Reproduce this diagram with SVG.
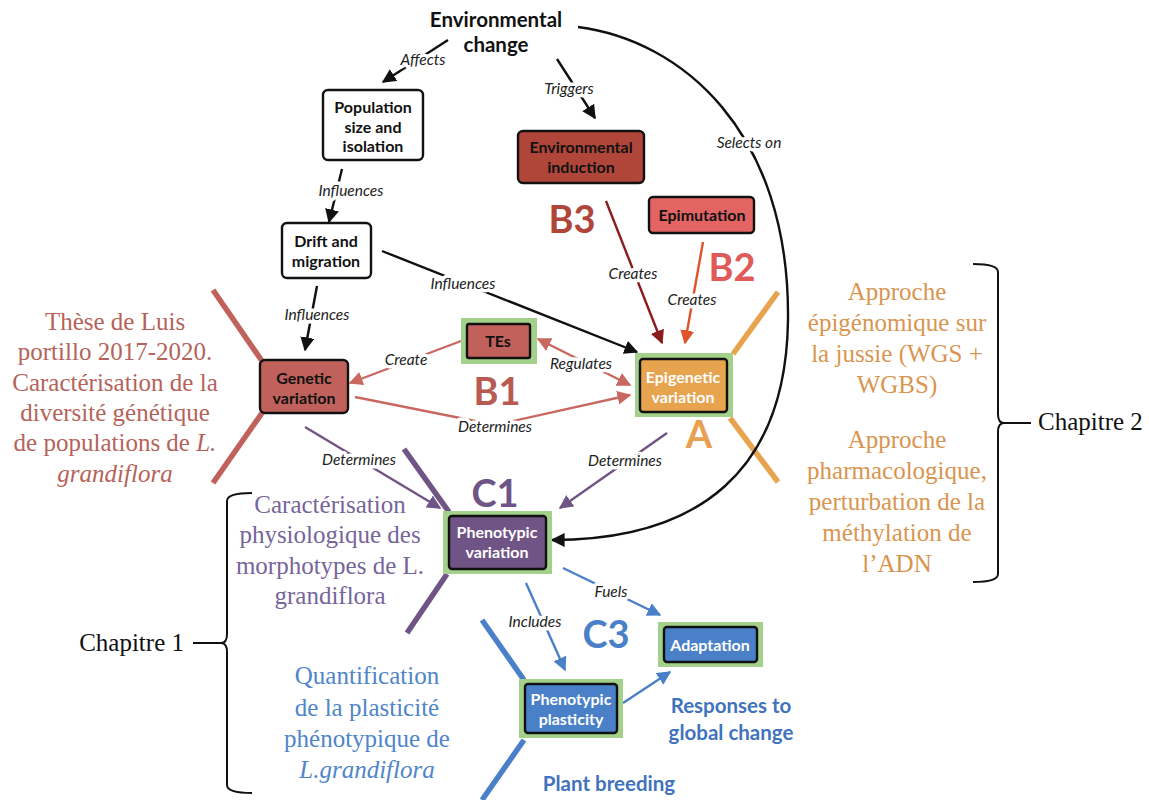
<svg xmlns="http://www.w3.org/2000/svg" width="1149" height="800" viewBox="0 0 1149 800">
<style>
.nt{font-family:Lato,"Open Sans",sans-serif;font-weight:bold;font-size:16px;text-anchor:middle;fill:#111}
.nw{fill:#fff}
.ttl{font-size:20.5px}
.blt{font-size:20.5px;fill:#3f73bd}
.lbl{font-family:Lato,"Open Sans",sans-serif;font-style:italic;font-size:15.5px;text-anchor:middle;fill:#222;paint-order:stroke;stroke:#fff;stroke-width:7px;stroke-linejoin:round}
.box{stroke:#111;stroke-width:2.4}
.frame{fill:#a3d08a}
.sec{font-family:Lato,"Open Sans",sans-serif;font-weight:bold;font-size:38px;text-anchor:middle}
.ser{font-family:"Liberation Serif","Times New Roman",serif;font-size:25px;text-anchor:middle}
.chap{text-anchor:start;fill:#111}
.chapr{text-anchor:end;fill:#111}
.c{fill:none;stroke-width:2.4}
.bar{stroke-width:5.5;stroke-linecap:butt}
.brace{fill:none;stroke:#111;stroke-width:2}
</style>
<defs>
<marker id="mk" viewBox="0 0 10 10" refX="9" refY="5" markerWidth="14" markerHeight="14" markerUnits="userSpaceOnUse" orient="auto-start-reverse"><path d="M0,0 L10,5 L0,10 z" fill="#111"/></marker>
<marker id="mr" viewBox="0 0 10 10" refX="9" refY="5" markerWidth="14" markerHeight="14" markerUnits="userSpaceOnUse" orient="auto-start-reverse"><path d="M0,0 L10,5 L0,10 z" fill="#c86860"/></marker>
<marker id="md" viewBox="0 0 10 10" refX="9" refY="5" markerWidth="14" markerHeight="14" markerUnits="userSpaceOnUse" orient="auto-start-reverse"><path d="M0,0 L10,5 L0,10 z" fill="#8b1c1c"/></marker>
<marker id="mo" viewBox="0 0 10 10" refX="9" refY="5" markerWidth="14" markerHeight="14" markerUnits="userSpaceOnUse" orient="auto-start-reverse"><path d="M0,0 L10,5 L0,10 z" fill="#e0522a"/></marker>
<marker id="mp" viewBox="0 0 10 10" refX="9" refY="5" markerWidth="14" markerHeight="14" markerUnits="userSpaceOnUse" orient="auto-start-reverse"><path d="M0,0 L10,5 L0,10 z" fill="#6f5485"/></marker>
<marker id="mb" viewBox="0 0 10 10" refX="9" refY="5" markerWidth="14" markerHeight="14" markerUnits="userSpaceOnUse" orient="auto-start-reverse"><path d="M0,0 L10,5 L0,10 z" fill="#4a80c8"/></marker>
</defs>
<rect width="1149" height="800" fill="#fff"/>

<g id="bars">
<line class="bar" x1="213" y1="290" x2="262" y2="361" stroke="#c0625b"/>
<line class="bar" x1="262" y1="413" x2="213" y2="483" stroke="#c0625b"/>
<line class="bar" x1="733" y1="354" x2="778" y2="292" stroke="#e8a34f"/>
<line class="bar" x1="730" y1="418" x2="778" y2="482" stroke="#e8a34f"/>
<line class="bar" x1="404" y1="449" x2="449" y2="512" stroke="#6f5485"/>
<line class="bar" x1="447" y1="574" x2="407" y2="633" stroke="#6f5485"/>
<line class="bar" x1="482" y1="620" x2="524" y2="680" stroke="#4a80c8"/>
<line class="bar" x1="524" y1="740" x2="482" y2="800" stroke="#4a80c8"/>
</g>

<g id="connectors">
<line class="c" stroke="#111" x1="448" y1="40" x2="383" y2="82" marker-end="url(#mk)"/>
<line class="c" stroke="#111" x1="557" y1="59" x2="595" y2="118" marker-end="url(#mk)"/>
<line class="c" stroke="#111" x1="342" y1="169" x2="329" y2="222" marker-end="url(#mk)"/>
<line class="c" stroke="#111" x1="317" y1="286" x2="305" y2="350" marker-end="url(#mk)"/>
<line class="c" stroke="#111" x1="382" y1="251" x2="637" y2="352" marker-end="url(#mk)"/>
<line class="c" stroke="#c86860" x1="461" y1="341" x2="350" y2="383" marker-end="url(#mr)"/>
<line class="c" stroke="#c86860" x1="538" y1="339" x2="630" y2="385" marker-start="url(#mr)" marker-end="url(#mr)"/>
<polyline class="c" stroke="#c86860" points="355,397 495,425 630,395" marker-end="url(#mr)"/>
<line class="c" stroke="#8b1c1c" x1="606" y1="201" x2="662" y2="343" marker-end="url(#md)"/>
<line class="c" stroke="#e0522a" x1="703" y1="242" x2="685" y2="343" marker-end="url(#mo)"/>
<line class="c" stroke="#6f5485" x1="305" y1="427" x2="440" y2="508" marker-end="url(#mp)"/>
<line class="c" stroke="#6f5485" x1="667" y1="433" x2="560" y2="508" marker-end="url(#mp)"/>
<path class="c" stroke="#111" d="M578,27 C680,40 790,130 788,320 C786,470 700,540 552,540" marker-end="url(#mk)"/>
<line class="c" stroke="#4a80c8" x1="563" y1="568" x2="660" y2="615" marker-end="url(#mb)"/>
<line class="c" stroke="#4a80c8" x1="526" y1="583" x2="565" y2="670" marker-end="url(#mb)"/>
<line class="c" stroke="#4a80c8" x1="623" y1="703" x2="670" y2="672" marker-end="url(#mb)"/>
<text class="lbl" x="423" y="65">Affects</text>
<text class="lbl" x="569" y="94">Triggers</text>
<text class="lbl" x="351" y="196">Influences</text>
<text class="lbl" x="317" y="320">Influences</text>
<text class="lbl" x="463" y="289">Influences</text>
<text class="lbl" x="406" y="365">Create</text>
<text class="lbl" x="581" y="369">Regulates</text>
<text class="lbl" x="495" y="432">Determines</text>
<text class="lbl" x="633" y="279">Creates</text>
<text class="lbl" x="692" y="305">Creates</text>
<text class="lbl" x="749" y="148">Selects on</text>
<text class="lbl" x="359" y="465">Determines</text>
<text class="lbl" x="625" y="466">Determines</text>
<text class="lbl" x="611" y="597">Fuels</text>
<text class="lbl" x="535" y="627">Includes</text>
</g>

<g id="env-change">
<text class="nt ttl" x="496" y="27">Environmental</text>
<text class="nt ttl" x="496" y="52">change</text>
</g>

<g id="pop-size">
<rect class="box" x="323" y="90" width="100" height="70" rx="5" fill="#fff"/>
<text class="nt" x="373" y="113">Population</text>
<text class="nt" x="373" y="133">size and</text>
<text class="nt" x="373" y="152">isolation</text>
</g>

<g id="env-induction">
<rect class="box" x="518" y="131" width="126" height="52" rx="5" fill="#b0463a"/>
<text class="nt" x="581" y="153">Environmental</text>
<text class="nt" x="581" y="173">induction</text>
</g>

<g id="epimutation">
<rect class="box" x="649" y="197" width="105" height="36" rx="4" fill="#e46464"/>
<text class="nt" x="702" y="221">Epimutation</text>
</g>

<g id="drift">
<rect class="box" x="282" y="223" width="89" height="55" rx="5" fill="#fff"/>
<text class="nt" x="326" y="247">Drift and</text>
<text class="nt" x="326" y="267">migration</text>
</g>

<g id="tes">
<rect class="frame" x="461" y="318" width="76" height="46"/>
<rect class="box" x="467" y="324" width="63" height="34" rx="2" fill="#c0625b"/>
<text class="nt" x="498" y="347">TEs</text>
</g>

<g id="genetic">
<rect class="box" x="260" y="360" width="88" height="53" rx="5" fill="#c0625b"/>
<text class="nt" x="304" y="384">Genetic</text>
<text class="nt" x="304" y="404">variation</text>
</g>

<g id="epigenetic">
<rect class="frame" x="635" y="353" width="98" height="64"/>
<rect class="box" x="640" y="359" width="87" height="53" rx="3" fill="#e8a34f"/>
<text class="nt nw" x="683" y="383">Epigenetic</text>
<text class="nt nw" x="683" y="403">variation</text>
</g>

<g id="phenotypic-variation">
<rect class="frame" x="443" y="511" width="109" height="63"/>
<rect class="box" x="449" y="516" width="97" height="53" rx="3" fill="#6f5485"/>
<text class="nt nw" x="497" y="538">Phenotypic</text>
<text class="nt nw" x="497" y="558">variation</text>
</g>

<g id="adaptation">
<rect class="frame" x="658" y="622" width="105" height="45"/>
<rect class="box" x="664" y="627" width="93" height="35" rx="3" fill="#4a80c8"/>
<text class="nt nw" x="710" y="651">Adaptation</text>
</g>

<g id="plasticity">
<rect class="frame" x="519" y="679" width="104" height="59"/>
<rect class="box" x="525" y="684" width="92" height="49" rx="3" fill="#4a80c8"/>
<text class="nt nw" x="571" y="705">Phenotypic</text>
<text class="nt nw" x="571" y="725">plasticity</text>
</g>

<g id="sections">
<text class="sec" x="572" y="233" fill="#b0463a">B3</text>
<text class="sec" x="732" y="281" fill="#e05a5a">B2</text>
<text class="sec" x="497" y="405" fill="#b85a52">B1</text>
<text class="sec" x="699" y="448" fill="#e8a04f">A</text>
<text class="sec" x="495" y="507" fill="#6f5485">C1</text>
<text class="sec" x="606" y="648" fill="#4a80c8">C3</text>
<text class="nt blt" x="731" y="713">Responses to</text>
<text class="nt blt" x="731" y="740">global change</text>
<text class="nt blt" x="609" y="791">Plant breeding</text>
</g>

<g id="left-text" fill="#b5635a">
<text class="ser" x="115" y="330">Thèse de Luis</text>
<text class="ser" x="115" y="360">portillo 2017-2020.</text>
<text class="ser" x="115" y="391">Caractérisation de la</text>
<text class="ser" x="115" y="421">diversité génétique</text>
<text class="ser" x="115" y="451">de populations de <tspan font-style="italic">L.</tspan></text>
<text class="ser" x="115" y="482" font-style="italic">grandiflora</text>
</g>

<g id="right-text" fill="#d9954f">
<text class="ser" x="897" y="300">Approche</text>
<text class="ser" x="897" y="331">épigénomique sur</text>
<text class="ser" x="897" y="362">la jussie (WGS +</text>
<text class="ser" x="897" y="393">WGBS)</text>
<text class="ser" x="897" y="448">Approche</text>
<text class="ser" x="897" y="479">pharmacologique,</text>
<text class="ser" x="897" y="510">perturbation de la</text>
<text class="ser" x="897" y="541">méthylation de</text>
<text class="ser" x="897" y="572">l’ADN</text>
</g>

<g id="purple-text" fill="#76659a">
<text class="ser" x="330" y="513">Caractérisation</text>
<text class="ser" x="330" y="543">physiologique des</text>
<text class="ser" x="330" y="574">morphotypes de L.</text>
<text class="ser" x="330" y="604">grandiflora</text>
</g>

<g id="blue-text" fill="#4f85c9">
<text class="ser" x="367" y="684">Quantification</text>
<text class="ser" x="367" y="716">de la plasticité</text>
<text class="ser" x="367" y="747">phénotypique de</text>
<text class="ser" x="367" y="778" font-style="italic">L.grandiflora</text>
</g>

<g id="chapitre-2">
<path class="brace" d="M973,264 Q998,264 998,272 L998,414 Q998,423 1004,423 Q998,423 998,432 L998,574 Q998,582 973,582"/>
<line class="brace" x1="1004" y1="423" x2="1031" y2="423"/>
<text class="ser chap" x="1038" y="430">Chapitre 2</text>
</g>

<g id="chapitre-1">
<path class="brace" d="M252,493 Q227,493 227,501 L227,634 Q227,643 221,643 Q227,643 227,652 L227,785 Q227,793 252,793"/>
<line class="brace" x1="221" y1="643" x2="193" y2="643"/>
<text class="ser chapr" x="184" y="651">Chapitre 1</text>
</g>
</svg>
